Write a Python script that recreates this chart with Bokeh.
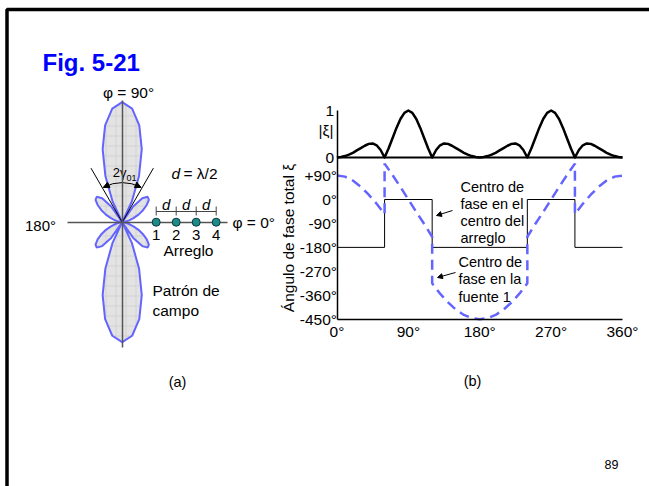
import numpy as np
from bokeh.plotting import figure
from bokeh.models import Range1d, LinearAxis, FixedTicker, Arrow, NormalHead
from bokeh.core.properties import value
from bokeh.embed import file_html
from bokeh.resources import INLINE

# ---------------- data ----------------
# angle phi (deg) and normalized array factor |xi| (4 sources, d = lambda/2)
phi_deg = list(range(0, 365, 5))
xi_mag = [0.00, 0.01, 0.03, 0.06, 0.10, 0.15, 0.20, 0.25, 0.29, 0.30, 0.26, 0.16,
          0.00, 0.19, 0.41, 0.63, 0.82, 0.95, 1.00, 0.95, 0.82, 0.63, 0.41, 0.19,
          0.00, 0.16, 0.26, 0.30, 0.29, 0.25, 0.20, 0.15, 0.10, 0.06, 0.03, 0.01,
          0.00, 0.01, 0.03, 0.06, 0.10, 0.15, 0.20, 0.25, 0.29, 0.30, 0.26, 0.16,
          0.00, 0.19, 0.41, 0.63, 0.82, 0.95, 1.00, 0.95, 0.82, 0.63, 0.41, 0.19,
          0.00, 0.16, 0.26, 0.30, 0.29, 0.25, 0.20, 0.15, 0.10, 0.06, 0.03, 0.01,
          0.00]

# total phase, phase centre at the centre of the array (step curve)
center_phi = [0, 60, 60, 120, 120, 240, 240, 300, 300, 360]
center_phase = [-180, -180, 0, 0, -180, -180, 0, 0, -180, -180]

# total phase, phase centre at source 1 (dashed curve)
src1_phi = [0, 10, 20, 30, 40, 50, 60, 60, 70, 80, 90, 100, 110, 120, 120,
            130, 140, 150, 160, 170, 180, 190, 200, 210, 220, 230, 240, 240,
            250, 260, 270, 280, 290, 300, 300, 310, 320, 330, 340, 350, 360]
src1_phase = [90, 86, 71, 48, 18, -16, -55, 135, 92, 47, 0, -47, -92, -140, -315,
              -354, -387, -414, -434, -446, -450, -446, -434, -414, -387, -354, -315, -140,
              -92, -47, 0, 47, 92, 135, -55, -16, 18, 48, 71, 86, 90]

phase_ticks = [-450, -360, -270, -180, -90, 0, 90]
phase_labels = ["-450°", "-360°", "-270°", "-180°", "-90°", "0°", "+90°"]
deg_ticks = [0, 90, 180, 270, 360]
deg_labels = ["0°", "90°", "180°", "270°", "360°"]
mag_ticks = [0, 1]

elements = [1, 2, 3, 4]
null_angles = [60, 120]          # directions of the first nulls (deg)
null_line_r = 0.52

# ---------------- layout helpers ----------------
W, H = 649, 486
FONT = value("Liberation Sans")


def mk(v0, c0, v1, c1, size, flip=False):
    if flip:
        c0, c1 = size - c0, size - c1
    k = (v1 - v0) / (c1 - c0)
    start = v0 - c0 * k
    return Range1d(start=start, end=start + size * k)


p = figure(width=W, height=H, x_range=Range1d(0, W), y_range=Range1d(H, 0),
           x_axis_type=None, y_axis_type=None, min_border=0,
           toolbar_location=None, output_backend="svg",
           outline_line_color=None, background_fill_color="white",
           border_fill_color="white")

p.extra_x_ranges = {
    "deg": mk(0, 336.5, 360, 622, W),
    "pol_x": mk(0, 121.7, 1, 241.7, W),
    "arr": mk(1, 155.7, 4, 215.7, W),
}
p.extra_y_ranges = {
    "phase": mk(0, 199, -450, 318.7, H, flip=True),
    "mag": mk(0, 157, 1, 110, H, flip=True),
    "pol_y": mk(0, 221.7, 1, 101.7, H, flip=True),
}


def txt(x, y, s, size, align="left", baseline="middle", style="normal",
        color="black", angle=0.0, xr="default", yr="default"):
    p.text(x=[x], y=[y], text=[s], text_font=FONT, text_font_size=size,
           text_align=align, text_baseline=baseline, text_font_style=style,
           text_color=color, angle=angle, x_range_name=xr, y_range_name=yr)


def bare_axis(**kw):
    return LinearAxis(ticker=FixedTicker(ticks=[]), major_label_text_font_size="0px",
                      major_tick_out=0, major_tick_in=0, minor_tick_out=0,
                      minor_tick_in=0, **kw)

# ---------------- slide frame & title ----------------
p.line(x=[6.5, 6.5, 700], y=[600, 9, 9], line_color="black", line_width=3.5)
txt(42, 62, "Fig. 5-21", "24px", baseline="alphabetic", style="bold", color="#0000ff")

# ---------------- (a) polar field pattern ----------------
ang = np.radians(np.array(phi_deg, dtype=float))
r = np.array(xi_mag)
p.patch(x=r * np.cos(ang), y=r * np.sin(ang), x_range_name="pol_x", y_range_name="pol_y",
        fill_color="#e3e3e3", hatch_pattern="+", hatch_color="#c9c9c9",
        hatch_scale=10, hatch_weight=0.6, line_color="#6464ff", line_width=2)

p.add_layout(bare_axis(x_range_name="pol_x", y_range_name="pol_y", fixed_location=0,
                       bounds=(-0.46, 0.875), axis_line_color="#555555",
                       axis_line_width=1.5), "below")
p.add_layout(bare_axis(x_range_name="pol_x", y_range_name="pol_y", fixed_location=0,
                       bounds=(-1.044, 1.014), axis_line_color="#555555",
                       axis_line_width=1.5), "left")

na = np.radians(np.array(null_angles, dtype=float))
p.segment(x0=[0, 0], y0=[0, 0], x1=null_line_r * np.cos(na), y1=null_line_r * np.sin(na),
          x_range_name="pol_x", y_range_name="pol_y", line_color="black", line_width=1)
arc_r = 0.33
p.arc(x=0, y=0, radius=arc_r, start_angle=np.radians(62), end_angle=np.radians(118),
      x_range_name="pol_x", y_range_name="pol_y", line_color="black", line_width=1)
for a0, a1 in [(70, 61.5), (110, 118.5)]:
    p.add_layout(Arrow(end=NormalHead(size=6, fill_color="black", line_color="black"),
                       x_start=arc_r * np.cos(np.radians(a0)), y_start=arc_r * np.sin(np.radians(a0)),
                       x_end=arc_r * np.cos(np.radians(a1)), y_end=arc_r * np.sin(np.radians(a1)),
                       x_range_name="pol_x", y_range_name="pol_y",
                       line_color="black", line_width=0))

# array of sources
p.segment(x0=[elements[0]], y0=[211], x1=[elements[-1]], y1=[211], x_range_name="arr",
          line_color="#444444", line_width=1)
p.segment(x0=elements, y0=[206] * 4, x1=elements, y1=[215] * 4, x_range_name="arr",
          line_color="#444444", line_width=1)
dots = p.scatter(x=elements, y=[0] * 4, x_range_name="arr", y_range_name="pol_y",
                 size=8, fill_color="#1e8a8a", line_color="#0b3a3a", line_width=1)
dots.level = "overlay"
p.text(x=elements, y=[234] * 4, text=[str(e) for e in elements], x_range_name="arr",
       text_font=FONT, text_font_size="15px", text_align="center", text_baseline="middle")
mids = [(a + b) / 2 for a, b in zip(elements[:-1], elements[1:])]
p.text(x=mids, y=[204] * 3, text=["d"] * 3, x_range_name="arr", text_font=FONT,
       text_font_size="15px", text_font_style="italic", text_align="center",
       text_baseline="middle")

txt(128, 92, "φ = 90°", "15.5px", align="center")
txt(232, 222, "φ = 0°", "15.5px")
txt(40, 225, "180°", "15px", align="center")
txt(171, 173, "d", "15.5px", style="italic")
txt(183, 173, "= λ/2", "15.5px")
txt(126, 172, "2γ", "13px", align="right")
txt(126, 177, "01", "9px")
txt(188, 250, "Arreglo", "15.5px", align="center")
txt(152, 290, "Patrón de", "15.5px")
txt(152, 310, "campo", "15.5px")
txt(177, 381, "(a)", "14.5px", align="center")

# ---------------- (b) |xi| and total phase ----------------
p.line(x=phi_deg, y=xi_mag, x_range_name="deg", y_range_name="mag",
       line_color="black", line_width=2.5, line_join="round")
p.line(x=center_phi, y=center_phase, x_range_name="deg", y_range_name="phase",
       line_color="black", line_width=1)
p.line(x=src1_phi, y=src1_phase, x_range_name="deg", y_range_name="phase",
       line_color="#6464ff", line_width=2.5, line_dash="10 6")

lbl = dict(major_label_text_font="Liberation Sans", major_label_text_font_size="15.5px",
           major_label_text_color="black",
           major_tick_out=0, major_tick_in=0, minor_tick_out=0, minor_tick_in=0,
           axis_line_color="black", axis_line_width=1.5)
ax_phase = LinearAxis(x_range_name="deg", y_range_name="phase", fixed_location=0,
                      bounds=(-450, 160), ticker=FixedTicker(ticks=phase_ticks),
                      major_label_overrides=dict(zip(phase_ticks, phase_labels)),
                      major_label_standoff=0, axis_label="Ángulo de fase total ξ",
                      axis_label_text_font="Liberation Sans",
                      axis_label_text_font_size="15.5px", axis_label_text_color="black",
                      axis_label_text_font_style="normal", axis_label_standoff=0, **lbl)
p.add_layout(ax_phase, "left")
ax_mag = LinearAxis(x_range_name="deg", y_range_name="mag", fixed_location=0,
                    bounds=(0, 1), ticker=FixedTicker(ticks=mag_ticks),
                    major_label_standoff=3, **lbl)
p.add_layout(ax_mag, "left")
p.add_layout(bare_axis(x_range_name="deg", y_range_name="mag", fixed_location=0,
                       bounds=(0, 360), axis_line_color="black", axis_line_width=2), "below")
ax_deg = LinearAxis(x_range_name="deg", y_range_name="phase", fixed_location=-450,
                    bounds=(0, 360), ticker=FixedTicker(ticks=deg_ticks),
                    major_label_overrides=dict(zip(deg_ticks, deg_labels)),
                    major_label_standoff=4, **lbl)
p.add_layout(ax_deg, "below")

txt(333, 130, "|ξ|", "15.5px", align="right")

for i, s in enumerate(["Centro de", "fase en el", "centro del", "arreglo"]):
    txt(460, 186 + 17 * i, s, "14.5px")
for i, s in enumerate(["Centro de", "fase en la", "fuente 1"]):
    txt(458, 261 + 17.5 * i, s, "14.5px")
for xs, ys, xe, ye in [(452, 210, 436, 215), (455, 272, 437, 277)]:
    p.add_layout(Arrow(end=NormalHead(size=5, fill_color="black", line_color="black"),
                       x_start=xs, y_start=ys, x_end=xe, y_end=ye,
                       line_color="black", line_width=1))

txt(472, 380, "(b)", "14.5px", align="center")
txt(611, 464, "89", "12.5px", align="center")

open("out.html", "w").write(file_html(p, INLINE, "Fig. 5-21"))
